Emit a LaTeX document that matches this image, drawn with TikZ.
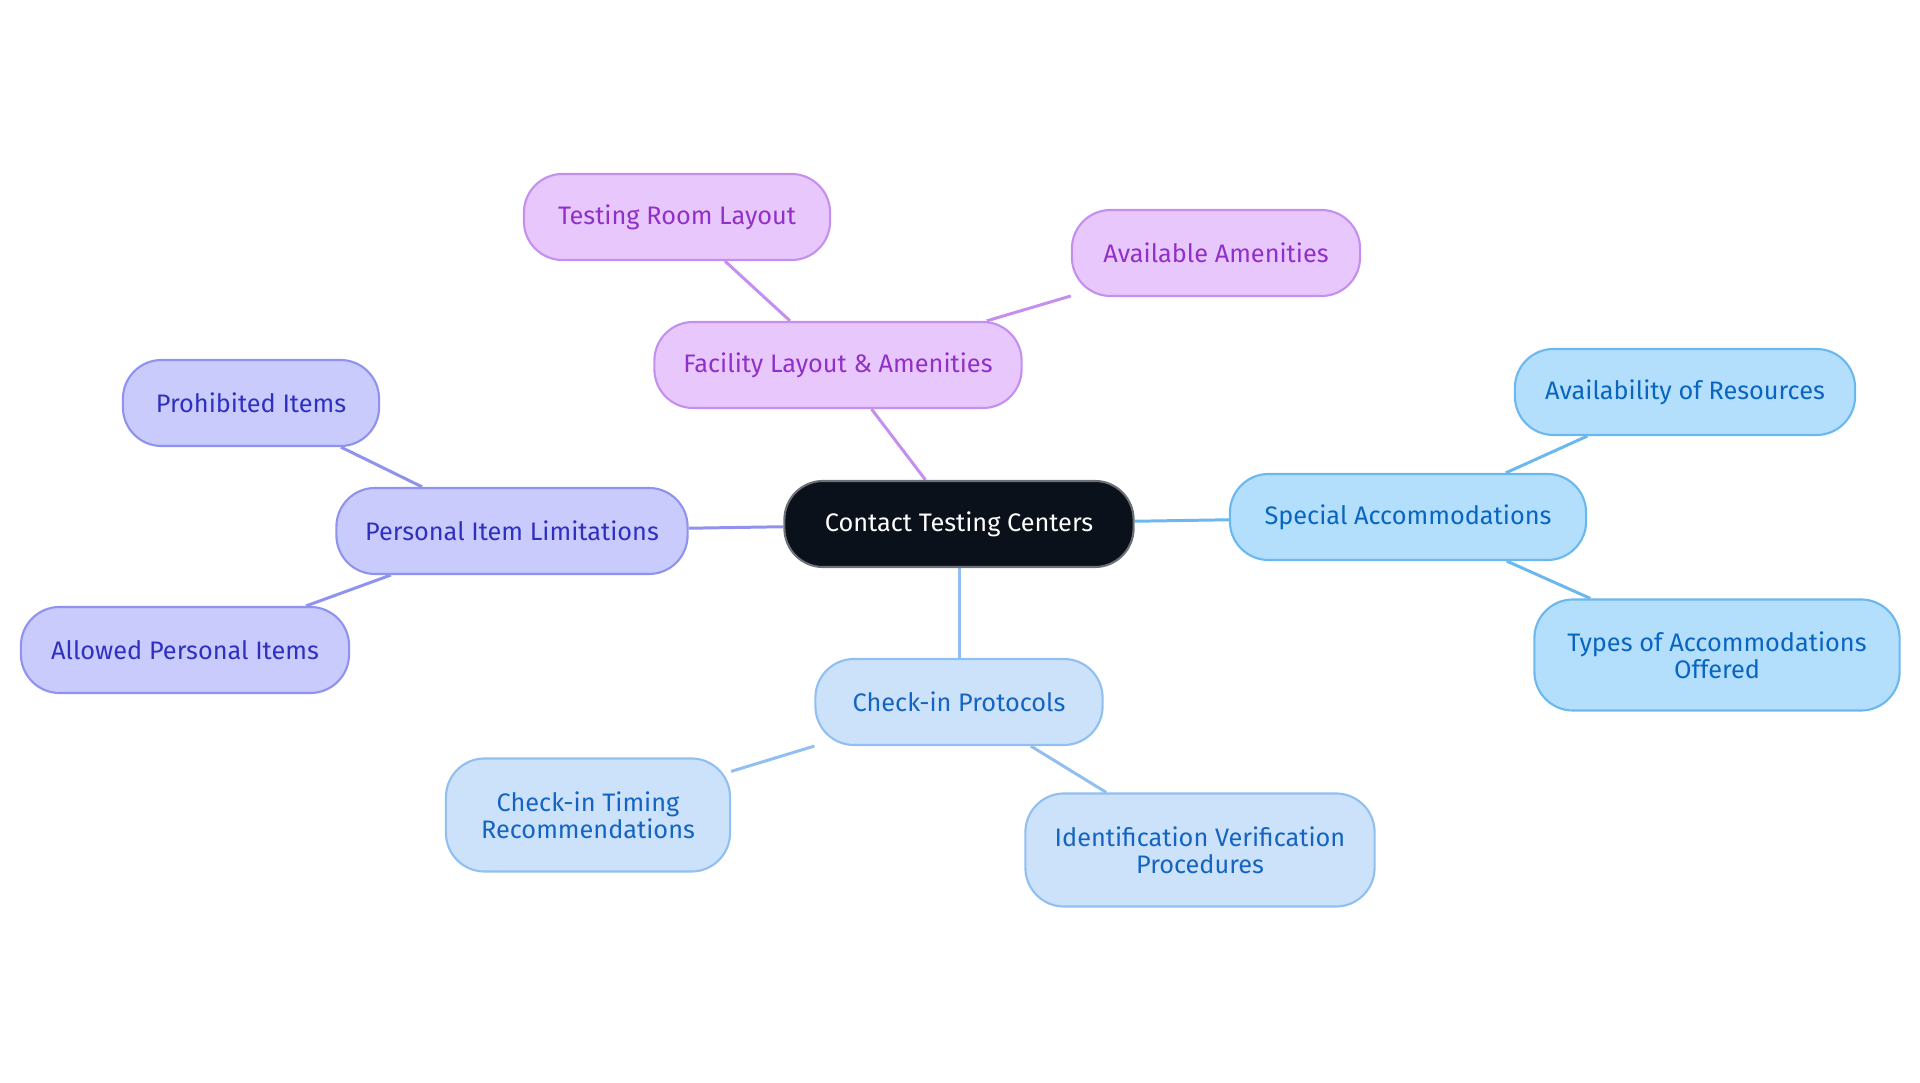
\documentclass[tikz,border=0pt]{standalone}
\usepackage{fontspec}
\setmainfont{Fira Sans}
\usetikzlibrary{backgrounds}
\definecolor{bF}{HTML}{B3DFFD}\definecolor{bD}{HTML}{6BB8EE}\definecolor{bT}{HTML}{0A65C0}
\definecolor{lF}{HTML}{CCE2FB}\definecolor{lD}{HTML}{90BFF0}\definecolor{lT}{HTML}{1565C0}
\definecolor{iF}{HTML}{C8CBFB}\definecolor{iD}{HTML}{8F92EE}\definecolor{iT}{HTML}{3030C0}
\definecolor{pF}{HTML}{E8C8FC}\definecolor{pD}{HTML}{C48FEE}\definecolor{pT}{HTML}{9030C8}
\definecolor{cF}{HTML}{0B111A}
\tikzset{
 box/.style={rounded corners=11pt,line width=0.6pt,align=center,font=\fontsize{7.2}{7.6}\selectfont,inner sep=0pt},
 bbox/.style={box,fill=bF,draw=bD,text=bT},
 lbox/.style={box,fill=lF,draw=lD,text=lT},
 ibox/.style={box,fill=iF,draw=iD,text=iT},
 pbox/.style={box,fill=pF,draw=pD,text=pT},
 edge/.style={line width=0.85pt},
}
\begin{document}
\begin{tikzpicture}[x=0.01cm,y=-0.01cm]
\useasboundingbox (0,0) rectangle (1920,1083);
\node[box,fill=cF,draw=cF!60,text=white,minimum width=3.49cm,minimum height=0.86cm] (c) at (959,524) {Contact Testing Centers};
\node[pbox,minimum width=3.67cm,minimum height=0.86cm] (fa) at (838,365) {Facility Layout \& Amenities};
\node[pbox,minimum width=3.06cm,minimum height=0.86cm] (tr) at (677,217) {Testing Room Layout};
\node[pbox,minimum width=2.88cm,minimum height=0.86cm] (aa) at (1216,253) {Available Amenities};
\node[ibox,minimum width=3.51cm,minimum height=0.86cm] (pi) at (512,531) {Personal Item Limitations};
\node[ibox,minimum width=2.56cm,minimum height=0.86cm] (pr) at (251,403) {Prohibited Items};
\node[ibox,minimum width=3.28cm,minimum height=0.86cm] (ap) at (185,650) {Allowed Personal Items};
\node[bbox,minimum width=3.56cm,minimum height=0.86cm] (sa) at (1408,517) {Special Accommodations};
\node[bbox,minimum width=3.40cm,minimum height=0.86cm] (ar) at (1685,392) {Availability of Resources};
\node[bbox,minimum width=3.65cm,minimum height=1.11cm] (ta) at (1717,655) {Types of Accommodations\\Offered};
\node[lbox,minimum width=2.87cm,minimum height=0.86cm] (cp) at (959,702) {Check-in Protocols};
\node[lbox,minimum width=2.84cm,minimum height=1.13cm] (ct) at (588,815) {Check-in Timing\\Recommendations};
\node[lbox,minimum width=3.49cm,minimum height=1.13cm] (iv) at (1200,850) {Identification Verification\\Procedures};
\begin{scope}[on background layer]
\draw[edge,pD] (c)--(fa); \draw[edge,pD] (fa)--(tr); \draw[edge,pD] (fa)--(aa);
\draw[edge,iD] (c)--(pi); \draw[edge,iD] (pi)--(pr); \draw[edge,iD] (pi)--(ap);
\draw[edge,bD] (c)--(sa); \draw[edge,bD] (sa)--(ar); \draw[edge,bD] (sa)--(ta);
\draw[edge,lD] (c)--(cp); \draw[edge,lD] (cp)--(ct); \draw[edge,lD] (cp)--(iv);
\end{scope}
\end{tikzpicture}
\end{document}
